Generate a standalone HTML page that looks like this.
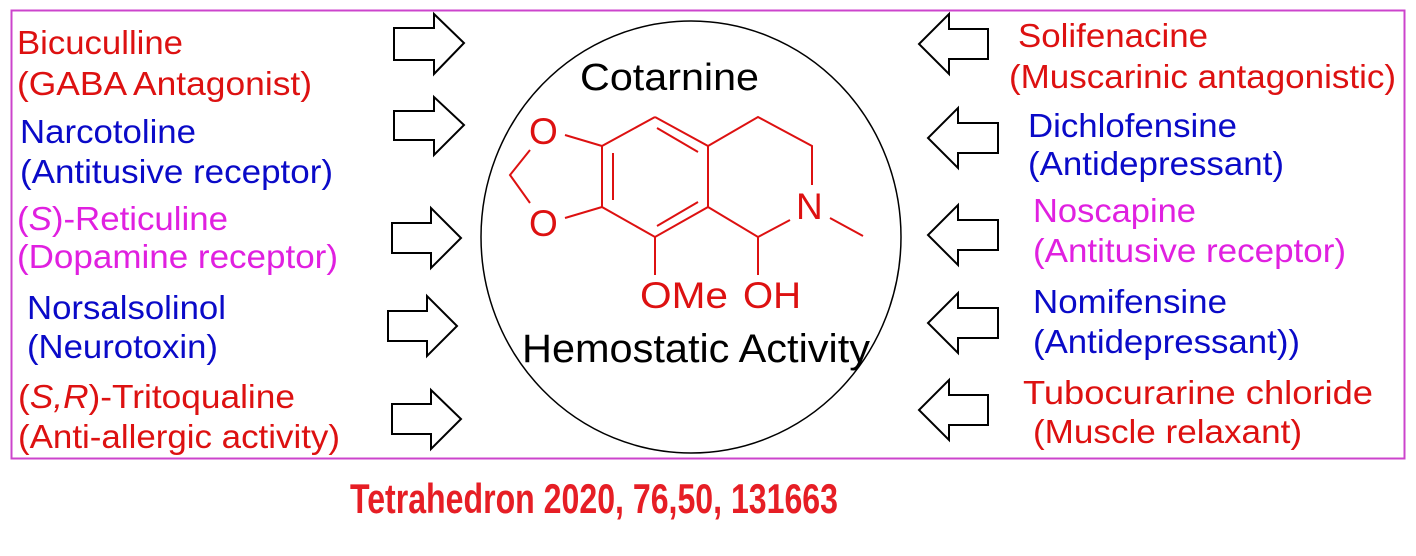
<!DOCTYPE html>
<html><head><meta charset="utf-8"><style>
html,body{margin:0;padding:0;background:#fff;}
svg{display:block;}
text{font-family:"Liberation Sans",Arial,sans-serif;}
.r{fill:#dd1111}.b{fill:#0a0ac8}.m{fill:#e020e0}
.t{font-size:33px}
</style></head><body>
<svg width="1416" height="556" viewBox="0 0 1416 556" xmlns="http://www.w3.org/2000/svg">
<rect x="11.5" y="10.5" width="1393" height="448" fill="none" stroke="#cc44cc" stroke-width="2"/>
<ellipse cx="691" cy="237" rx="210" ry="216" fill="none" stroke="#000" stroke-width="1.5"/>
<g fill="#fff" stroke="#000" stroke-width="2" stroke-linejoin="miter">
<polygon points="394,28 434,28 434,14 464,43 434,74 434,60 394,60"/>
<polygon points="394,111 434,111 434,97 464,125 434,155 434,140 394,140"/>
<polygon points="392,223 431,223 431,208 461,238 431,268 431,253 392,253"/>
<polygon points="388,311 427,311 427,296 457,326 427,356 427,341 388,341"/>
<polygon points="392,404 431,404 431,390 461,419 431,449 431,434 392,434"/>
<polygon points="988,29 949,29 949,14 919,44 949,74 949,59 988,59"/>
<polygon points="998,123 958,123 958,108 928,138 958,168 958,153 998,153"/>
<polygon points="998,220 958,220 958,205 928,235 958,265 958,250 998,250"/>
<polygon points="998,308 958,308 958,293 928,323 958,353 958,338 998,338"/>
<polygon points="988,395 949,395 949,380 919,410 949,440 949,425 988,425"/>
</g>
<text class="t r" x="17" y="54" textLength="166" lengthAdjust="spacingAndGlyphs">Bicuculline</text>
<text class="t r" x="17" y="95" textLength="295" lengthAdjust="spacingAndGlyphs">(GABA Antagonist)</text>
<text class="t b" x="20" y="143" textLength="176" lengthAdjust="spacingAndGlyphs">Narcotoline</text>
<text class="t b" x="20" y="183" textLength="313" lengthAdjust="spacingAndGlyphs">(Antitusive receptor)</text>
<text class="t m" x="17" y="230" textLength="211" lengthAdjust="spacingAndGlyphs">(<tspan font-style="italic">S</tspan>)-Reticuline</text>
<text class="t m" x="17" y="268" textLength="321" lengthAdjust="spacingAndGlyphs">(Dopamine receptor)</text>
<text class="t b" x="27" y="319" textLength="199" lengthAdjust="spacingAndGlyphs">Norsalsolinol</text>
<text class="t b" x="27" y="358" textLength="191" lengthAdjust="spacingAndGlyphs">(Neurotoxin)</text>
<text class="t r" x="18" y="408" textLength="277" lengthAdjust="spacingAndGlyphs">(<tspan font-style="italic">S,R</tspan>)-Tritoqualine</text>
<text class="t r" x="18" y="448" textLength="322" lengthAdjust="spacingAndGlyphs">(Anti-allergic activity)</text>
<text class="t r" x="1018" y="47" textLength="190" lengthAdjust="spacingAndGlyphs">Solifenacine</text>
<text class="t r" x="1009" y="88" textLength="387" lengthAdjust="spacingAndGlyphs">(Muscarinic antagonistic)</text>
<text class="t b" x="1028" y="137" textLength="209" lengthAdjust="spacingAndGlyphs">Dichlofensine</text>
<text class="t b" x="1028" y="175" textLength="256" lengthAdjust="spacingAndGlyphs">(Antidepressant)</text>
<text class="t m" x="1033" y="222" textLength="163" lengthAdjust="spacingAndGlyphs">Noscapine</text>
<text class="t m" x="1033" y="262" textLength="313" lengthAdjust="spacingAndGlyphs">(Antitusive receptor)</text>
<text class="t b" x="1033" y="313" textLength="194" lengthAdjust="spacingAndGlyphs">Nomifensine</text>
<text class="t b" x="1033" y="353" textLength="267" lengthAdjust="spacingAndGlyphs">(Antidepressant))</text>
<text class="t r" x="1023" y="404" textLength="350" lengthAdjust="spacingAndGlyphs">Tubocurarine  chloride</text>
<text class="t r" x="1033" y="443" textLength="269" lengthAdjust="spacingAndGlyphs">(Muscle relaxant)</text>
<text x="580" y="90" font-size="38" fill="#000" textLength="179" lengthAdjust="spacingAndGlyphs">Cotarnine</text>
<text x="522" y="362" font-size="40" fill="#000" textLength="348" lengthAdjust="spacingAndGlyphs">Hemostatic Activity</text>
<g stroke="#dd1111" stroke-width="2" fill="none">
<polyline points="655,117 708,146 708,207 655,237 602,207 602,146 655,117"/>
<line x1="613" y1="153" x2="613" y2="200"/>
<line x1="657" y1="128" x2="698" y2="152"/>
<line x1="657" y1="226" x2="698" y2="202"/>
<line x1="565" y1="135" x2="602" y2="146"/>
<line x1="565" y1="218" x2="602" y2="207"/>
<polyline points="530,150 510,175 530,203"/>
<polyline points="708,146 758,117 812,146 812,185"/>
<polyline points="790,220 758,237 708,207"/>
<line x1="830" y1="218" x2="863" y2="236"/>
<line x1="655" y1="237" x2="655" y2="275"/>
<line x1="758" y1="237" x2="758" y2="275"/>
</g>
<g fill="#dd1111" font-size="37">
<text x="529" y="144">O</text>
<text x="529" y="236">O</text>
<text x="796" y="219">N</text>
<text x="640" y="308" textLength="88" lengthAdjust="spacingAndGlyphs">OMe</text>
<text x="743" y="308" textLength="58" lengthAdjust="spacingAndGlyphs">OH</text>
</g>
<text x="350" y="513" font-size="42" font-weight="bold" fill="#e61e25" textLength="488" lengthAdjust="spacingAndGlyphs">Tetrahedron 2020, 76,50, 131663</text>
</svg>
</body></html>
